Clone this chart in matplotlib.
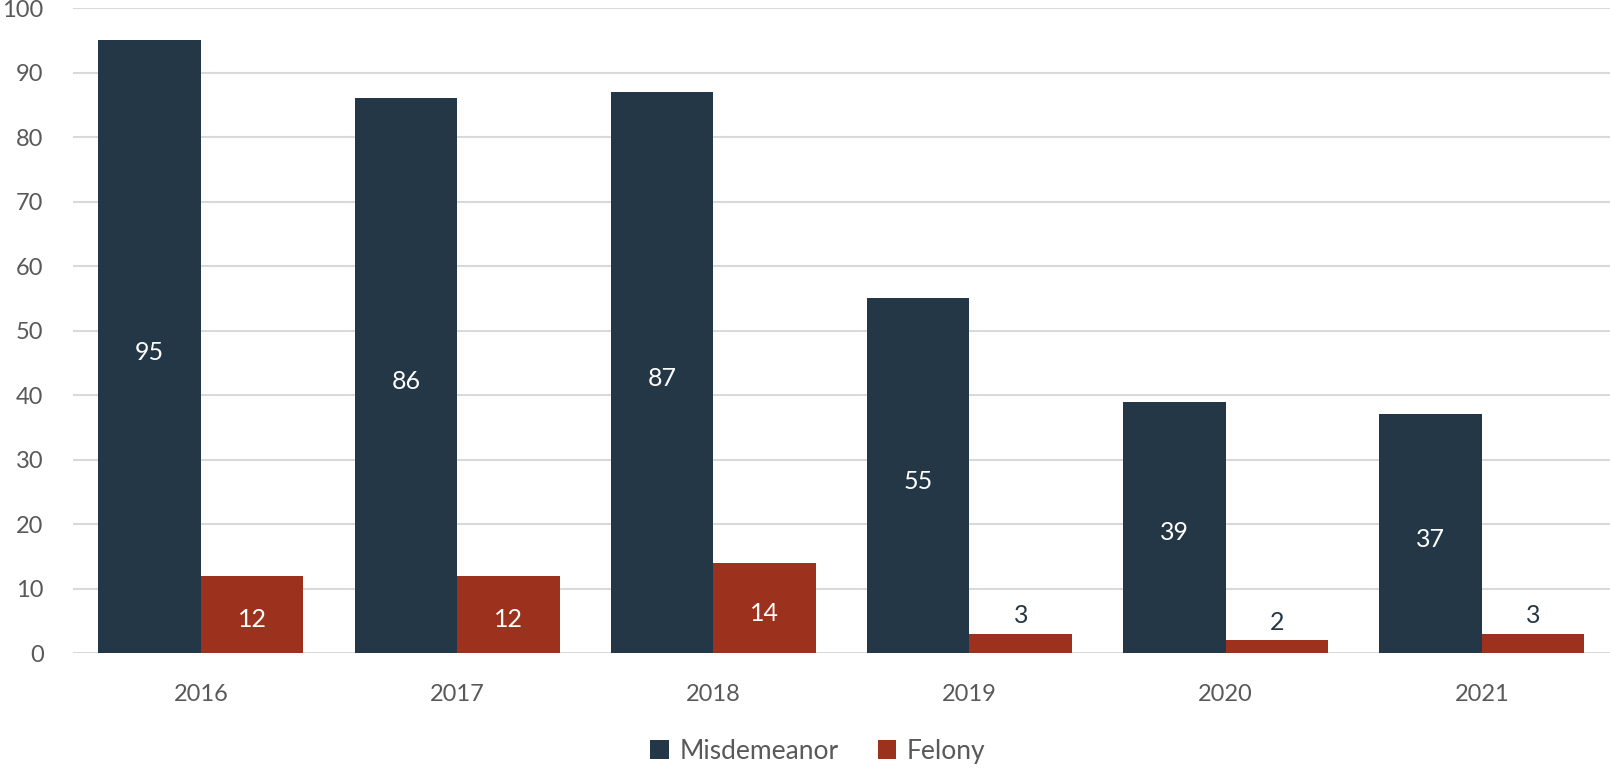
import matplotlib
matplotlib.use("Agg")
import matplotlib.pyplot as plt
import numpy as np

years = ["2016", "2017", "2018", "2019", "2020", "2021"]
misdemeanor = [95, 86, 87, 55, 39, 37]
felony = [12, 12, 14, 3, 2, 3]

NAVY = "#243746"
RED = "#9C311E"
GRAY = "#595959"

plt.rcParams["font.family"] = ["Lato", "DejaVu Sans"]

fig = plt.figure(figsize=(16.1, 7.68), dpi=100)
ax = fig.add_axes([0.0452, 0.1497, 0.9548, 0.8396])

x = np.arange(len(years))
w = 0.4
b1 = ax.bar(x - w / 2, misdemeanor, w, color=NAVY, label="Misdemeanor", zorder=3)
b2 = ax.bar(x + w / 2, felony, w, color=RED, label="Felony", zorder=3)

# labels: misdemeanor centred in bar, felony inside if it fits, else above
for rect, v in zip(b1, misdemeanor):
    ax.annotate(str(v), (rect.get_x() + rect.get_width() / 2, v / 2),
                xytext=(0, -4), textcoords="offset points",
                ha="center", va="center", color="white", fontsize=18, zorder=4)
for rect, v in zip(b2, felony):
    cx = rect.get_x() + rect.get_width() / 2
    if v >= 10:
        ax.annotate(str(v), (cx, v / 2), xytext=(0, -4), textcoords="offset points",
                    ha="center", va="center", color="white", fontsize=18, zorder=4)
    else:
        ax.annotate(str(v), (cx, v), xytext=(0, 13), textcoords="offset points",
                    ha="center", va="center", color=NAVY, fontsize=18, zorder=4)

ax.set_xlim(-0.5, len(years) - 0.5)
ax.set_ylim(0, 100)
ax.set_yticks(range(0, 101, 10))
ax.set_xticks(x)
ax.set_xticklabels(years)
ax.tick_params(axis="both", length=0, labelsize=17, colors=GRAY)
ax.tick_params(axis="x", pad=22)
ax.tick_params(axis="y", pad=21)

ax.grid(axis="y", color="#D9D9D9", linewidth=1.5, zorder=0)
for s in ax.spines.values():
    s.set_visible(False)

fig.legend(loc="center", bbox_to_anchor=(0.508, 0.022), ncol=2, frameon=False,
           fontsize=19, handlelength=0.7, handleheight=0.7, columnspacing=1.5,
           handletextpad=0.4, labelcolor=GRAY)

fig.savefig("out.png", dpi=100)
